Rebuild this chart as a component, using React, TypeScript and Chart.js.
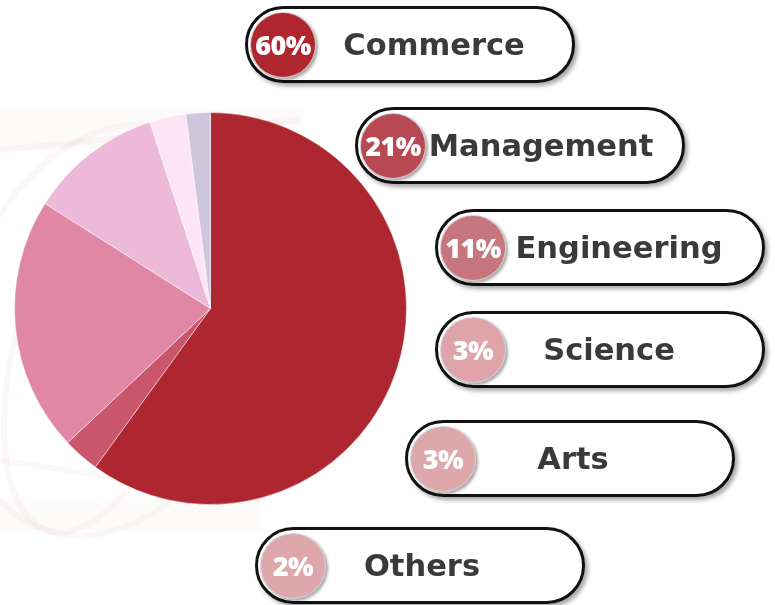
import React, { useEffect, useRef } from "react";
import { Chart, registerables } from "chart.js";

Chart.register(...registerables);

// Pie slices (clockwise from 12 o'clock)
const sliceLabels = ["Commerce", "Arts", "Management", "Engineering", "Science", "Others"];
const sliceValues = [60, 3, 21, 11, 3, 2];
const sliceColors = ["#ae2730", "#c9566a", "#e087a6", "#edb9d9", "#fde5f7", "#cdc6dc"];

// Legend pills
const legendLabels = ["Commerce", "Management", "Engineering", "Science", "Arts", "Others"];
const legendPercents = [60, 21, 11, 3, 3, 2];
const badgeColors = ["#b0262f", "#b84852", "#c6767c", "#dea4a9", "#dea7ab", "#dea7ab"];

// Pill placement (layout only)
const pillLayout = [
  { left: 245, top: 6, textCenter: 189 },
  { left: 355, top: 107, textCenter: 186 },
  { left: 435, top: 209, textCenter: 184 },
  { left: 435, top: 311, textCenter: 174 },
  { left: 405, top: 420, textCenter: 168 },
  { left: 255, top: 527, textCenter: 167 },
];

const watermark = {
  id: "watermark",
  beforeDraw(chart: any) {
    const ctx = chart.ctx as CanvasRenderingContext2D;
    ctx.save();
    ctx.strokeStyle = "rgba(200,140,140,0.07)";
    ctx.lineWidth = 6;
    ctx.beginPath();
    ctx.ellipse(110, 330, 150, 210, 0.3, 0, Math.PI * 2);
    ctx.stroke();
    ctx.beginPath();
    ctx.ellipse(110, 330, 90, 210, 0.3, 0, Math.PI * 2);
    ctx.stroke();
    ctx.beginPath();
    ctx.moveTo(0, 150);
    ctx.lineTo(300, 120);
    ctx.moveTo(0, 460);
    ctx.lineTo(260, 500);
    ctx.stroke();
    ctx.fillStyle = "rgba(220,170,170,0.06)";
    ctx.fillRect(0, 110, 300, 40);
    ctx.fillRect(0, 500, 260, 30);
    ctx.restore();
  },
};

export default function App() {
  const ref = useRef<HTMLCanvasElement | null>(null);

  useEffect(() => {
    document.body.style.margin = "0";
    if (!ref.current) return;
    const chart = new Chart(ref.current, {
      type: "pie",
      data: {
        labels: sliceLabels,
        datasets: [
          {
            data: sliceValues,
            backgroundColor: sliceColors,
            borderColor: "rgba(255,255,255,0.45)",
            borderWidth: 1,
          },
        ],
      },
      options: {
        responsive: false,
        animation: false,
        layout: { padding: { left: 14, right: 368, top: 112, bottom: 100 } },
        plugins: {
          legend: { display: false },
          tooltip: { enabled: false },
        },
      },
      plugins: [watermark],
    });
    return () => chart.destroy();
  }, []);

  return (
    <div
      style={{
        position: "fixed",
        left: 0,
        top: 0,
        width: 775,
        height: 605,
        background: "#ffffff",
        overflow: "hidden",
      }}
    >
      <canvas ref={ref} width={775} height={605} style={{ position: "absolute", left: 0, top: 0 }} />
      {legendLabels.map((label, i) => {
        const p = pillLayout[i];
        return (
          <div
            key={label}
            style={{
              position: "absolute",
              left: p.left,
              top: p.top,
              width: 330,
              height: 77,
              boxSizing: "border-box",
              border: "3px solid #111",
              borderRadius: 39,
              background: "#fff",
              boxShadow: "3px 3px 4px rgba(0,0,0,0.35)",
            }}
          >
            <div
              style={{
                position: "absolute",
                left: 2,
                top: 2.5,
                width: 66,
                height: 66,
                boxSizing: "border-box",
                borderRadius: "50%",
                background: badgeColors[i],
                border: "1.5px solid rgba(215,215,215,0.9)",
                boxShadow: "2px 2px 3px rgba(0,0,0,0.35)",
                display: "flex",
                alignItems: "center",
                justifyContent: "center",
                color: "#fff",
                fontFamily: "'Open Sans', sans-serif",
                fontWeight: 800,
                fontSize: 27,
                letterSpacing: -0.5,
                whiteSpace: "nowrap",
              }}
            >
              {legendPercents[i]}%
            </div>
            <div
              style={{
                position: "absolute",
                left: p.textCenter - 3,
                top: 0,
                height: 71,
                transform: "translateX(-50%)",
                display: "flex",
                alignItems: "center",
                color: "#3a3a3a",
                fontFamily: "'DejaVu Sans', sans-serif",
                fontWeight: 700,
                fontSize: 30.5,
                whiteSpace: "nowrap",
              }}
            >
              {label}
            </div>
          </div>
        );
      })}
    </div>
  );
}
